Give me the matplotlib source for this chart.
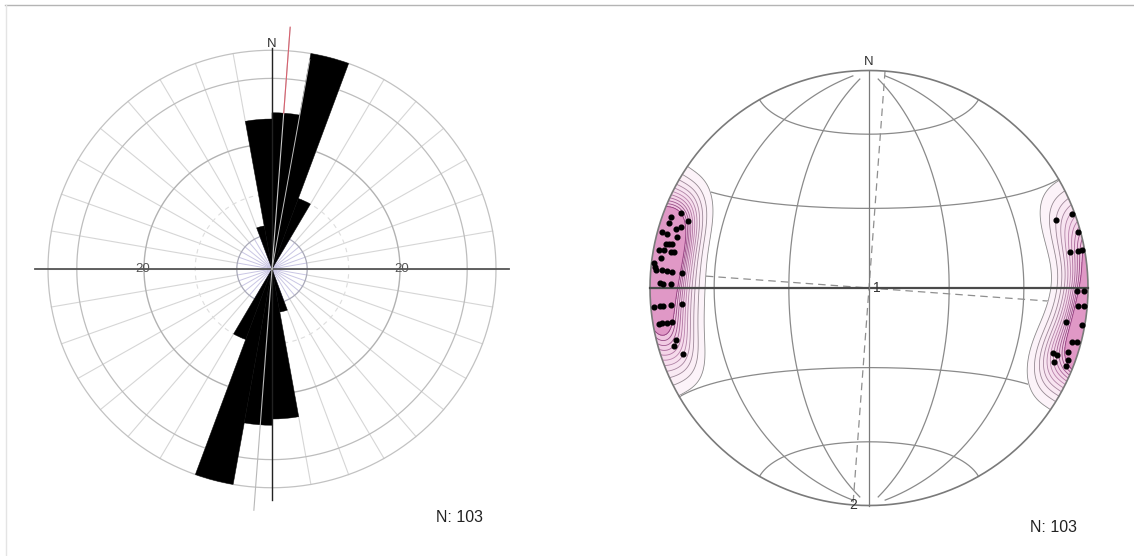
import numpy as np
import matplotlib
matplotlib.use("Agg")
import matplotlib.pyplot as plt
from matplotlib.colors import LinearSegmentedColormap
from matplotlib.patches import Circle
from matplotlib.lines import Line2D

plt.rcParams['font.family'] = ['Liberation Sans', 'DejaVu Sans']

# ---------------- data ----------------
# Rose diagram: strike counts per 10-degree bin over 0-180 (axial, mirrored to 180-360)
bin_starts = np.arange(0, 180, 10)
strike_counts = [25, 35, 12, 0, 0, 0, 0, 0, 0, 0, 0, 0, 0, 0, 0, 0, 7, 24]
ring_values = [5.5, 12, 20, 30.5, 35]
ring_label_value = 20
mean_strike = 4.2
n_measurements = 103

# Poles to planes (trend, plunge in degrees), lower hemisphere
pole_trend = [292.0, 290.0, 290.3, 288.2, 288.1, 287.0, 285.2, 285.0, 285.1, 282.3,
              282.5, 282.7, 280.3, 280.5, 280.4, 280.6, 278.2, 276.7, 275.7, 274.8,
              275.0, 274.9, 274.7, 274.7, 271.3, 271.1, 271.2, 265.0, 265.1, 265.0,
              265.1, 265.1, 260.2, 260.3, 260.2, 260.2, 254.8, 253.2, 250.4,
              69.9, 69.9, 75.0, 79.7, 79.8, 79.8, 90.7, 90.7, 94.9, 94.8,
              99.8, 99.9, 104.9, 104.7, 109.5, 109.7, 107.8, 111.8, 110.0, 111.7]
pole_plunge = [8.2, 4.5, 12.7, 4.5, 10.6, 8.6, 2.2, 5.3, 10.3, 5.6,
               7.2, 8.8, 2.9, 5.4, 8.8, 10.4, 4.5, 1.3, 2.0, 2.6,
               5.9, 8.4, 10.8, 15.5, 4.9, 6.6, 10.7, 1.7, 4.6, 6.2,
               10.4, 15.3, 3.0, 4.8, 7.3, 9.8, 9.8, 7.8, 10.6,
               10.1, 1.7, 1.3, 7.5, 3.2, 1.5, 5.6, 1.9, 4.6, 1.8,
               9.7, 1.7, 4.8, 1.8, 12.1, 9.8, 5.0, 9.9, 3.6, 3.4]

# Eigenvectors and the principal planes
eigen_labels = ["1", "2"]
eigen_trend = [90.0, 184.2]
eigen_plunge = [87.0, 0.0]
plane_strike = [4.2, 94.2]
plane_dip = [90.0, 90.0]

grid_meridians = [-60, -30, 30, 60]
grid_latitudes = [-60, -30, 30, 60]

# ---------------- figure ----------------
W, H = 1134, 556
fig = plt.figure(figsize=(W / 100, H / 100), dpi=100)
fig.patch.set_facecolor('white')

# thin page frame (top and left edges)
fig.add_artist(Line2D([5 / W, 1.0], [1 - 4.5 / H, 1 - 4.5 / H], color='#b4b4b4', lw=1.0,
                      transform=fig.transFigure))
fig.add_artist(Line2D([5.5 / W, 5.5 / W], [0, 1 - 4.5 / H], color='#e4e4e4', lw=1.0,
                      transform=fig.transFigure))

# ---------------- rose diagram ----------------
rmax = 39.0
sx, sy = 6.4, 6.25          # pixels per count (horizontal, vertical)
cx, cy = 272, 269
ax = fig.add_axes([(cx - rmax * sx) / W, (H - cy - rmax * sy) / H,
                   2 * rmax * sx / W, 2 * rmax * sy / H], projection='polar')
ax.set_aspect('auto')
ax.set_theta_zero_location('N')
ax.set_theta_direction(-1)
ax.set_ylim(0, rmax)
ax.set_xticks([])
ax.set_yticks([])
ax.grid(False)
ax.spines['polar'].set_visible(False)
ax.patch.set_alpha(0)

t = np.linspace(0, 2 * np.pi, 721)
for a in range(0, 360, 10):
    th = np.deg2rad(a)
    ax.plot([th, th], [0, ring_values[0]], color='#c9c6e4', lw=0.7, zorder=1)
    ax.plot([th, th], [ring_values[0], ring_values[-1]], color='#d6d6d6', lw=0.8, zorder=1)

ring_styles = {
    5.5: dict(color='#a9a9b8', lw=0.9, ls='-'),
    12: dict(color='#dedede', lw=0.8, ls=(0, (4, 4))),
    20: dict(color='#b2b2b2', lw=1.0, ls='-'),
    30.5: dict(color='#bdbdbd', lw=0.9, ls='-'),
    35: dict(color='#c2c2c2', lw=0.9, ls='-'),
}
for rv in ring_values:
    st = ring_styles[rv]
    ax.plot(t, np.full_like(t, rv), color=st['color'], lw=st['lw'], ls=st['ls'], zorder=1)

centers = np.deg2rad(np.concatenate([bin_starts, bin_starts + 180]) + 5)
heights = np.array(strike_counts + strike_counts, dtype=float)
ax.bar(centers, heights, width=np.deg2rad(10), bottom=0, color='black',
       edgecolor='black', linewidth=0.3, zorder=3)

# axes crosses
ax.plot([0, 0], [0, 35.3], color='#222222', lw=1.0, zorder=4)
ax.plot([np.pi, np.pi], [0, 37.0], color='#222222', lw=1.0, zorder=4)
ax.plot([np.pi / 2, np.pi / 2], [0, 37.0], color='#555555', lw=1.3, zorder=4)
ax.plot([3 * np.pi / 2, 3 * np.pi / 2], [0, 37.0], color='#555555', lw=1.3, zorder=4)

# mean direction
thm = np.deg2rad(mean_strike)
ax.plot([thm, thm], [0, 38.7], color='#c9c9c9', lw=0.8, zorder=5)
ax.plot([thm + np.pi, thm + np.pi], [0, 38.7], color='#b8b8b8', lw=0.8, zorder=5)
ax.plot([thm, thm], [strike_counts[0], 38.8], color='#d8606e', lw=0.8, zorder=6)
th10 = np.deg2rad(10)
ax.plot([th10, th10], [0, 34], color='#bdbdbd', lw=0.7, zorder=5)

for side in (np.pi / 2, 3 * np.pi / 2):
    ax.text(side, ring_label_value + 0.2, str(ring_label_value), ha='center', va='center',
            color='#555555', fontsize=9.5, zorder=6)
ax.text(0, 36.0, "N", ha='center', va='center', color='#333333', fontsize=9.5, zorder=6)

fig.text(459.5 / W, 1 - 517.3 / H, f"N: {n_measurements}", ha='center', va='center',
         fontsize=11.5, color='#222222')

# ---------------- equal-area stereonet ----------------
Rx, Ry = 219.0, 217.5
cx2, cy2 = 869, 288
lim = 1.1
ax2 = fig.add_axes([(cx2 - lim * Rx) / W, (H - cy2 - lim * Ry) / H,
                    2 * lim * Rx / W, 2 * lim * Ry / H])
ax2.set_xlim(-lim, lim)
ax2.set_ylim(-lim, lim)
ax2.axis('off')


def to_xyz(trend, plunge):
    tr = np.deg2rad(np.asarray(trend, float))
    pl = np.deg2rad(np.asarray(plunge, float))
    return np.stack([np.cos(pl) * np.sin(tr), np.cos(pl) * np.cos(tr), np.sin(pl)], axis=-1)


def project(v):
    v = np.asarray(v, float)
    v = np.where(v[..., 2:3] < 0, -v, v)
    s = 1.0 / np.sqrt(1.0 + v[..., 2])
    return v[..., 0] * s, v[..., 1] * s


grid_kw = dict(color='#8a8a8a', lw=0.9, zorder=1)
lam = np.deg2rad(np.linspace(-85, 85, 200))
for m in grid_meridians:
    ph = np.deg2rad(m)
    v = np.stack([np.cos(lam) * np.sin(ph), np.sin(lam), np.cos(lam) * np.cos(ph)], axis=-1)
    ax2.plot(*project(v), **grid_kw)
phi = np.deg2rad(np.linspace(-90, 90, 200))
for la in grid_latitudes:
    lr = np.deg2rad(la)
    v = np.stack([np.cos(lr) * np.sin(phi), np.full_like(phi, np.sin(lr)),
                  np.cos(lr) * np.cos(phi)], axis=-1)
    ax2.plot(*project(v), **grid_kw)

# principal planes (dashed great circles)
tt = np.deg2rad(np.linspace(0, 180, 200))
for s, d in zip(plane_strike, plane_dip):
    sr, dr = np.deg2rad(s), np.deg2rad(d)
    sv = np.array([np.sin(sr), np.cos(sr), 0.0])
    dv = np.array([np.sin(sr + np.pi / 2) * np.cos(dr), np.cos(sr + np.pi / 2) * np.cos(dr), np.sin(dr)])
    v = np.cos(tt)[:, None] * sv + np.sin(tt)[:, None] * dv
    x, y = v[:, 0] / np.sqrt(1 + v[:, 2]), v[:, 1] / np.sqrt(1 + v[:, 2])
    ax2.plot(x, y, color='#8f8f8f', lw=0.9, ls=(0, (6, 4)), zorder=1.5)

# pole density (exponential Kamb on axial data)
poles = to_xyz(pole_trend, pole_plunge)
g = np.linspace(-1.12, 1.12, 400)
GX, GY = np.meshgrid(g, g)
rho2 = np.clip(GX ** 2 + GY ** 2, 0, 1.999)
sc = np.sqrt(2 - rho2)
G = np.stack([GX * sc, GY * sc, 1 - rho2], axis=-1).reshape(-1, 3)
k = 70.0
dens = np.exp(k * (np.abs(G @ poles.T) - 1)).sum(axis=1).reshape(GX.shape)
inside = (GX ** 2 + GY ** 2) <= 1.0
dmax = dens[inside].max()
levels = np.linspace(0.045, 0.5, 11) * dmax
fill_cmap = LinearSegmentedColormap.from_list('pinkfill', ['#fdf5fa', '#e6a6cf', '#d27ab2'])
line_cmap = LinearSegmentedColormap.from_list('pinkline', ['#8c8c8c', '#b983ac', '#8d3d7c'])
clip = Circle((0, 0), 1.0, transform=ax2.transData)
cf = ax2.contourf(GX, GY, dens, levels=list(levels) + [dmax * 1.5], cmap=fill_cmap, zorder=2)
cf.set_clip_path(clip)
cl = ax2.contour(GX, GY, dens, levels=levels,
                 colors=[line_cmap(i / (len(levels) - 1)) for i in range(len(levels))],
                 linewidths=0.6, zorder=2.5)
cl.set_clip_path(clip)

# frame lines
tc = np.linspace(0, 2 * np.pi, 721)
ax2.plot(np.cos(tc), np.sin(tc), color='#7a7a7a', lw=1.2, zorder=3)
ax2.plot([-1, 1], [0, 0], color='#4a4a4a', lw=1.6, zorder=3)
ax2.plot([0, 0], [-1, 1], color='#7a7a7a', lw=0.9, zorder=3)

px, py = project(poles)
ax2.plot(px, py, 'o', ms=3.4, color='black', zorder=5)

ex, ey = project(to_xyz(eigen_trend, eigen_plunge))
for lab, x, y in zip(eigen_labels, ex, ey):
    ax2.text(x, y, lab, ha='center', va='center', fontsize=10, color='#333333', zorder=6)

ax2.text(0, 1.039, "N", ha='center', va='center', fontsize=9.5, color='#333333')
fig.text(1054 / W, 1 - 527 / H, f"N: {n_measurements}", ha='center', va='center',
         fontsize=11.5, color='#222222')

fig.savefig("out.png", dpi=100, facecolor='white')
